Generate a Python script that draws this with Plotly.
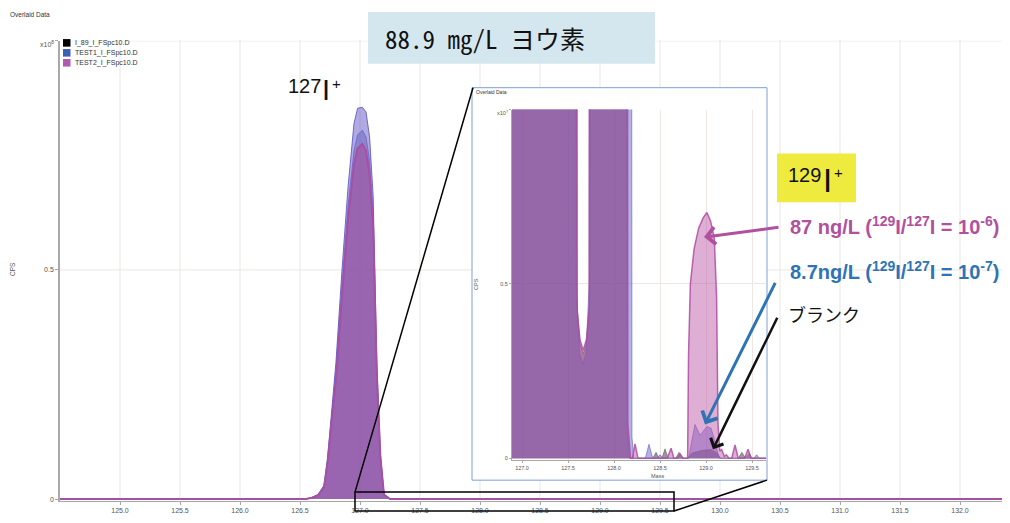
import plotly.graph_objects as go

# The page body has an 8px margin, so the figure is sized to fill the rest of the window.
OFF = 8
W, H = 1010 - OFF, 523 - OFF

# ---------------- data ----------------
series_names = ["I_89_I_FSpc10.D", "TEST1_I_FSpc10.D", "TEST2_I_FSpc10.D"]
legend_colors = ["#000000", "#3b5fb4", "#b05ab0"]

# main view (x10^8 CPS)
main_mass = [124.4, 126.55, 126.6, 126.65, 126.7, 126.73, 126.76, 126.8, 126.85, 126.9, 126.95,
             126.98, 127.02, 127.05, 127.08, 127.11, 127.14, 127.17, 127.2, 127.25, 132.5]
main_test1 = [0, 0, 0.004, 0.01, 0.03, 0.09, 0.18, 0.30, 0.50, 0.68, 0.82,
              0.853, 0.855, 0.845, 0.79, 0.66, 0.30, 0.10, 0.01, 0, 0]
main_i89 = [0, 0, 0.003, 0.009, 0.028, 0.085, 0.17, 0.28, 0.47, 0.64, 0.76,
            0.795, 0.805, 0.79, 0.74, 0.62, 0.28, 0.09, 0.01, 0, 0]
main_test2 = [0, 0, 0.003, 0.008, 0.025, 0.08, 0.16, 0.26, 0.44, 0.61, 0.73,
              0.765, 0.775, 0.76, 0.71, 0.59, 0.27, 0.09, 0.01, 0, 0]

main_xticks = [125.0, 125.5, 126.0, 126.5, 127.0, 127.5, 128.0, 128.5, 129.0, 129.5,
               130.0, 130.5, 131.0, 131.5, 132.0]
main_yticks = [0, 0.5, 1.0]
main_yticklabels = ["0", "0.5", ""]

# inset view (zoom on 127-129.6)
inset_mass_i89 = [126.85, 127.57, 127.595, 127.63, 127.665, 127.70, 127.735, 127.76, 128.12, 128.145,
                  128.17, 128.42, 128.457, 128.49, 128.52, 128.554, 128.59, 128.67, 128.707, 128.74,
                  128.80, 128.85, 128.95, 129.05, 129.12, 129.16, 129.35, 129.39, 129.43, 129.47,
                  129.5, 129.53, 129.7]
inset_i89 = [9, 9, 0.45, 0.33, 0.30, 0.33, 0.45, 9, 9, 0.08,
             0, 0, 0.017, 0, 0, 0.027, 0, 0, 0.017, 0,
             0, 0.015, 0.022, 0.025, 0.015, 0, 0, 0.017, 0, 0.015,
             0, 0, 0]

inset_mass_test1 = [126.85, 127.565, 127.59, 127.625, 127.66, 127.695, 127.73, 127.755, 128.175, 128.195,
                    128.215, 128.34, 128.38, 128.42, 128.47, 128.5, 128.53, 128.81, 128.88, 128.935,
                    129.01, 129.055, 129.11, 129.14, 129.52, 129.55, 129.58, 129.7]
inset_test1 = [9, 9, 0.5, 0.30, 0.27, 0.30, 0.5, 9, 9, 0.06,
               0, 0, 0.04, 0, 0, 0.01, 0, 0, 0.097, 0.066,
               0.091, 0.086, 0.037, 0, 0, 0.01, 0, 0]

inset_mass_test2 = [126.85, 127.575, 127.60, 127.63, 127.665, 127.70, 127.73, 127.755, 128.125, 128.15,
                    128.18, 128.20, 128.228, 128.26, 128.58, 128.62, 128.65, 128.69, 128.72, 128.75,
                    128.80, 128.81, 128.83, 128.87, 128.92, 128.97, 129.01, 129.05, 129.09, 129.115,
                    129.13, 129.15, 129.17, 129.2, 129.22, 129.25, 129.28, 129.315, 129.35, 129.42,
                    129.457, 129.49, 129.7]
inset_test2 = [9, 9, 0.42, 0.34, 0.31, 0.34, 0.42, 9, 9, 0.1,
               0, 0, 0.041, 0, 0, 0.029, 0, 0, 0.012, 0,
               0, 0.3, 0.5, 0.6, 0.66, 0.69, 0.705, 0.68, 0.63, 0.46,
               0.1, 0.02, 0.025, 0.005, 0.01, 0, 0, 0.038, 0, 0,
               0.026, 0, 0]

inset_xticks = [127.0, 127.5, 128.0, 128.5, 129.0, 129.5]
inset_yticks = [0, 0.5, 1.0]
inset_yticklabels = ["0", "0.5", ""]


def fx(p):
    return (p - OFF) / W


def fy(p):
    return 1 - (p - OFF) / H


fig = go.Figure()

# ---- main traces ----
fig.add_trace(go.Scatter(x=main_mass, y=main_test1, mode="lines", fill="tozeroy",
                         fillcolor="rgba(95,85,195,0.5)", line=dict(color="rgba(100,90,200,0.9)", width=1),
                         xaxis="x", yaxis="y", name=series_names[1], showlegend=False))
fig.add_trace(go.Scatter(x=main_mass, y=main_i89, mode="lines", fill="tozeroy",
                         fillcolor="rgba(60,50,170,0.3)", line=dict(color="rgba(90,80,190,0.7)", width=0.8),
                         xaxis="x", yaxis="y", name=series_names[0], showlegend=False))
fig.add_trace(go.Scatter(x=main_mass, y=main_test2, mode="lines", fill="tozeroy",
                         fillcolor="rgba(165,75,150,0.55)", line=dict(color="rgb(165,80,165)", width=2),
                         xaxis="x", yaxis="y", name=series_names[2], showlegend=False))

# ---- inset traces ----
fig.add_trace(go.Scatter(x=inset_mass_i89, y=inset_i89, mode="lines", fill="tozeroy",
                         fillcolor="rgba(0,0,0,0.4)", line=dict(color="rgba(70,70,70,0.6)", width=0.8),
                         xaxis="x2", yaxis="y2", name=series_names[0], showlegend=False))
fig.add_trace(go.Scatter(x=inset_mass_test1, y=inset_test1, mode="lines", fill="tozeroy",
                         fillcolor="rgba(70,75,200,0.42)", line=dict(color="rgba(80,80,200,0.7)", width=0.8),
                         xaxis="x2", yaxis="y2", name=series_names[1], showlegend=False))
fig.add_trace(go.Scatter(x=inset_mass_test2, y=inset_test2, mode="lines", fill="tozeroy",
                         fillcolor="rgba(185,85,165,0.48)", line=dict(color="rgba(175,75,165,0.85)", width=1.5),
                         xaxis="x2", yaxis="y2", name=series_names[2], showlegend=False))

axis_grey = "#a8a8a8"
tick_font = dict(family="Liberation Sans, Arial, sans-serif", size=7, color="#555555")
inset_tick_font = dict(family="Liberation Sans, Arial, sans-serif", size=5.5, color="#555555")

main_y_bottom_px = 501 + 0.004 * 460
inset_y_bottom_px = 460 + 0.006 * 350

fig.update_layout(
    width=W, height=H,
    margin=dict(l=0, r=0, t=0, b=0),
    paper_bgcolor="white", plot_bgcolor="white",
    showlegend=False,
    xaxis=dict(domain=[fx(60), 1.0], range=[124.5, 124.5 + 950 / 120], anchor="y",
               tickvals=main_xticks, ticktext=["%.1f" % t for t in main_xticks],
               showgrid=False, zeroline=False, showline=True, linecolor=axis_grey, linewidth=1,
               ticks="outside", ticklen=3, tickcolor=axis_grey, tickfont=tick_font),
    yaxis=dict(domain=[fy(main_y_bottom_px), fy(41)], range=[-0.004, 1.0], anchor="x",
               tickvals=main_yticks, ticktext=main_yticklabels,
               showgrid=False, zeroline=False, showline=True, linecolor=axis_grey, linewidth=1.5,
               ticks="outside", ticklen=3, tickcolor=axis_grey, tickfont=tick_font),
    xaxis2=dict(domain=[fx(512), fx(766)], range=[126.891, 129.652], anchor="y2",
                tickvals=inset_xticks, ticktext=["%.1f" % t for t in inset_xticks],
                showgrid=True, gridcolor="#efe6e4", gridwidth=1, zeroline=False,
                showline=True, linecolor=axis_grey, linewidth=1,
                ticks="outside", ticklen=2, tickcolor=axis_grey, tickfont=inset_tick_font),
    yaxis2=dict(domain=[fy(inset_y_bottom_px), fy(110)], range=[-0.006, 1.0], anchor="x2",
                tickvals=inset_yticks, ticktext=inset_yticklabels,
                showgrid=True, gridcolor="#efe6e4", gridwidth=1, zeroline=False,
                showline=True, linecolor=axis_grey, linewidth=1,
                ticks="outside", ticklen=2, tickcolor=axis_grey, tickfont=inset_tick_font),
)

shapes = []
# main gridlines (lower layer so the inset panel can cover them)
for t in main_xticks:
    shapes.append(dict(type="line", xref="x", yref="paper", x0=t, x1=t, y0=fy(501), y1=fy(40),
                       line=dict(color="#ece5e2", width=1), layer="below"))
for v in main_yticks[1:]:
    shapes.append(dict(type="line", xref="paper", yref="y", x0=fx(60), x1=1.0, y0=v, y1=v,
                       line=dict(color="#ece5e2", width=1), layer="below"))
# inset panel
shapes.append(dict(type="rect", xref="paper", yref="paper", x0=fx(472), x1=fx(767), y0=fy(482), y1=fy(88),
                   fillcolor="white", line=dict(color="#7f9fd8", width=1), layer="below"))
# title box and yellow box
shapes.append(dict(type="rect", xref="paper", yref="paper", x0=fx(368), x1=fx(655), y0=fy(64), y1=fy(12),
                   fillcolor="#d5e7ee", line=dict(width=0), layer="above"))
shapes.append(dict(type="rect", xref="paper", yref="paper", x0=fx(777), x1=fx(856), y0=fy(203), y1=fy(154),
                   fillcolor="#eeea3e", line=dict(width=0), layer="above"))
# zoom rectangle and connectors
shapes.append(dict(type="rect", xref="paper", yref="paper", x0=fx(355), x1=fx(674), y0=fy(513), y1=fy(494),
                   fillcolor="rgba(0,0,0,0)", line=dict(color="black", width=1.5), layer="above"))
shapes.append(dict(type="line", xref="paper", yref="paper", x0=fx(355), y0=fy(494), x1=fx(473), y1=fy(88),
                   line=dict(color="black", width=1.5), layer="above"))
shapes.append(dict(type="line", xref="paper", yref="paper", x0=fx(674), y0=fy(513), x1=fx(767), y1=fy(482),
                   line=dict(color="black", width=1.5), layer="above"))
# legend swatches
for i, c in enumerate(legend_colors):
    yc = 43 + 10 * i
    shapes.append(dict(type="rect", xref="paper", yref="paper", x0=fx(63), x1=fx(70.5),
                       y0=fy(yc + 3.8), y1=fy(yc - 3.8), fillcolor=c, line=dict(width=0), layer="above"))

fig.update_layout(shapes=shapes)

ann = []
small = "Liberation Sans, Arial, sans-serif"
jp = "Noto Sans CJK JP, sans-serif"


def txt(x, y, s, size, color="#222222", family=small, xanchor="left", yanchor="middle", **kw):
    ann.append(dict(xref="paper", yref="paper", x=fx(x), y=fy(y), text=s, showarrow=False,
                    xanchor=xanchor, yanchor=yanchor, font=dict(family=family, size=size, color=color), **kw))


txt(8, 15, "Overlaid Data", 6.5, "#333333")
for i, name in enumerate(series_names):
    txt(73, 43 + 10 * i, name, 7, "#333333")
txt(56, 44, "x10<sup>8</sup>", 7, "#555555", xanchor="right")
txt(13, 270, "CPS", 6.5, "#555555", xanchor="center", textangle=-90)
txt(535, 528, "Mass", 7, "#555555", xanchor="center")

# inset texts
txt(474, 92, "Overlaid Data", 5, "#333333")
txt(510, 113, "x10<sup>7</sup>", 5.5, "#555555", xanchor="right")
txt(476, 285, "CPS", 5.5, "#555555", xanchor="center", textangle=-90)
txt(657, 478, "Mass", 5.5, "#555555", xanchor="center")

# title
txt(383, 38, "88.9 mg/L ヨウ素", 25, "#111111", family="Noto Sans Mono CJK JP, Noto Sans CJK JP, sans-serif")

# 127I+
txt(323, 86, "127", 20, "#111111", xanchor="right")
txt(319.5, 90.5, "I", 29, "#111111")
txt(330, 84, "+", 15, "#111111")
# 129I+
txt(823, 175.5, "129", 20, "#111111", xanchor="right")
txt(820.5, 181, "I", 33, "#111111")
txt(832, 173, "+", 15, "#111111")

txt(788, 226.5, "<b>87 ng/L (<sup>129</sup>I/<sup>127</sup>I = 10<sup>-6</sup>)</b>", 20, "#b0509f")
txt(788, 271.5, "<b>8.7ng/L (<sup>129</sup>I/<sup>127</sup>I = 10<sup>-7</sup>)</b>", 20, "#2e74b5")
txt(786, 315, "ブランク", 18, "#111111", family=jp)


def arrow(tip, tail, color, width):
    ann.append(dict(xref="paper", yref="paper", x=fx(tip[0]), y=fy(tip[1]), text="",
                    showarrow=True, arrowhead=4, arrowsize=1.1, arrowwidth=width, arrowcolor=color,
                    ax=tail[0] - tip[0], ay=tail[1] - tip[1], standoff=0))


arrow((704, 238), (780, 228), "#b0509f", 3)
arrow((705, 426), (776, 283), "#2e74b5", 3)
arrow((713, 451), (778, 318), "#111111", 2.5)

fig.update_layout(annotations=ann)

fig.write_html("out.html")
